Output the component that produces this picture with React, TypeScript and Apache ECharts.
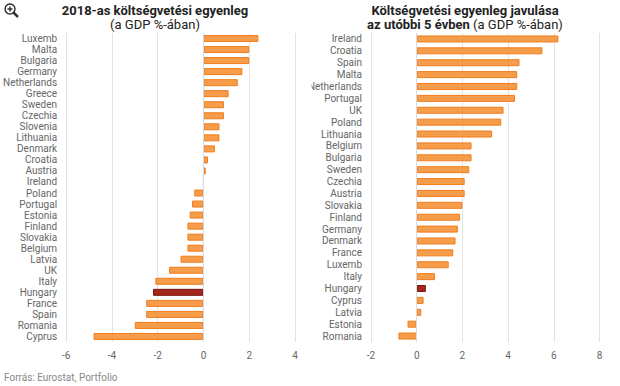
import React, { useEffect, useRef } from "react";
import * as echarts from "echarts";

const leftCategories = ["Luxemb","Malta","Bulgaria","Germany","Netherlands","Greece","Sweden","Czechia","Slovenia","Lithuania","Denmark","Croatia","Austria","Ireland","Poland","Portugal","Estonia","Finland","Slovakia","Belgium","Latvia","UK","Italy","Hungary","France","Spain","Romania","Cyprus"];
const leftValues = [2.4,2.0,2.0,1.7,1.5,1.1,0.9,0.9,0.7,0.7,0.5,0.2,0.1,0,-0.4,-0.5,-0.6,-0.7,-0.7,-0.7,-1.0,-1.5,-2.1,-2.2,-2.5,-2.5,-3.0,-4.8];
const rightCategories = ["Ireland","Croatia","Spain","Malta","Netherlands","Portugal","UK","Poland","Lithuania","Belgium","Bulgaria","Sweden","Czechia","Austria","Slovakia","Finland","Germany","Denmark","France","Luxemb","Italy","Hungary","Cyprus","Latvia","Estonia","Romania"];
const rightValues = [6.2,5.5,4.5,4.4,4.4,4.3,3.8,3.7,3.3,2.4,2.4,2.3,2.1,2.1,2.0,1.9,1.8,1.7,1.6,1.4,0.8,0.4,0.3,0.2,-0.4,-0.8];
const leftTicks = [-6, 4];
const rightTicks = [-2, 8];
const highlight = "Hungary";

const FONT = "Roboto, 'Noto Sans', sans-serif";
const normalStyle = { color: "rgba(245,146,55,0.9)", borderColor: "#f07d1c", borderWidth: 1 };
const hlStyle = { color: "#a2281b", borderColor: "#7e140c", borderWidth: 1 };

function mkData(cats: string[], vals: number[]) {
  return vals.map((v, i) => ({ value: v, itemStyle: cats[i] === highlight ? hlStyle : normalStyle }));
}

export default function App() {
  const ref = useRef<HTMLDivElement>(null);
  useEffect(() => {
    const chart = echarts.init(ref.current!, null, { renderer: "svg" });
    const xAxisBase = {
      type: "value",
      interval: 2,
      axisLine: { show: false },
      axisTick: { show: false },
      splitLine: { show: true, lineStyle: { color: "#e3e3e3", width: 1 } },
      axisLabel: { color: "#666", fontSize: 10, fontFamily: FONT, margin: 8 },
    };
    const yAxisBase = {
      type: "category",
      inverse: true,
      axisLine: { show: false },
      axisTick: { show: false },
      splitLine: { show: false },
      axisLabel: { color: "#666", fontSize: 10, fontFamily: FONT, margin: 9, interval: 0 },
    };
    chart.setOption({
      animation: false,
      grid: [
        { left: 66, width: 229, top: 33, height: 309 },
        { left: 371, width: 228.5, top: 33, height: 309 },
      ],
      xAxis: [
        { ...xAxisBase, gridIndex: 0, min: leftTicks[0], max: leftTicks[1] },
        { ...xAxisBase, gridIndex: 1, min: rightTicks[0], max: rightTicks[1] },
      ],
      yAxis: [
        { ...yAxisBase, gridIndex: 0, data: leftCategories },
        { ...yAxisBase, gridIndex: 1, data: rightCategories },
      ],
      series: [
        {
          type: "bar", xAxisIndex: 0, yAxisIndex: 0, barWidth: 7,
          data: mkData(leftCategories, leftValues),
          markLine: { silent: true, symbol: "none", label: { show: false }, lineStyle: { color: "#d5dbe6", type: "solid", width: 1 }, data: [{ xAxis: 0 }] },
        },
        {
          type: "bar", xAxisIndex: 1, yAxisIndex: 1, barWidth: 7,
          data: mkData(rightCategories, rightValues),
          markLine: { silent: true, symbol: "none", label: { show: false }, lineStyle: { color: "#d5dbe6", type: "solid", width: 1 }, data: [{ xAxis: 0 }] },
        },
      ],
      graphic: [
        { type: "rect", z: 100, shape: { x: 298, y: 78, width: 13.5, height: 16 }, style: { fill: "#fff" } },
        { type: "text", x: 155, y: 4, style: { text: "2018-as költségvetési egyenleg", font: `bold 13px ${FONT}`, fill: "#222", align: "center" } },
        { type: "text", x: 155, y: 18, style: { text: "(a GDP %-ában)", font: `13px ${FONT}`, fill: "#222", align: "center" } },
        { type: "text", x: 465, y: 4, style: { text: "Költségvetési egyenleg javulása", font: `bold 13px ${FONT}`, fill: "#222", align: "center" } },
        {
          type: "text", x: 465, y: 18,
          style: {
            text: "{b|az utóbbi 5 évben} {n|(a GDP %-ában)}", align: "center", fill: "#222",
            font: `13px ${FONT}`,
            rich: {
              b: { fontWeight: "bold", fontSize: 13, fontFamily: FONT, fill: "#222" },
              n: { fontWeight: "normal", fontSize: 13, fontFamily: FONT, fill: "#222" },
            },
          },
        },
        { type: "text", x: 4, y: 372, style: { text: "Forrás: Eurostat, Portfolio", font: `10px ${FONT}`, fill: "#888" } },
        { type: "circle", shape: { cx: 10, cy: 9, r: 5 }, style: { fill: "#fff", stroke: "#333", lineWidth: 1.5 } },
        { type: "line", shape: { x1: 13.5, y1: 12.5, x2: 18, y2: 17 }, style: { stroke: "#333", lineWidth: 2.5 } },
        { type: "line", shape: { x1: 7.5, y1: 9, x2: 12.5, y2: 9 }, style: { stroke: "#333", lineWidth: 1.5 } },
        { type: "line", shape: { x1: 10, y1: 6.5, x2: 10, y2: 11.5 }, style: { stroke: "#333", lineWidth: 1.5 } },
      ],
    });
    return () => chart.dispose();
  }, []);
  return <div ref={ref} style={{ position: "fixed", left: 0, top: 0, width: 620, height: 386, background: "#fff" }} />;
}
